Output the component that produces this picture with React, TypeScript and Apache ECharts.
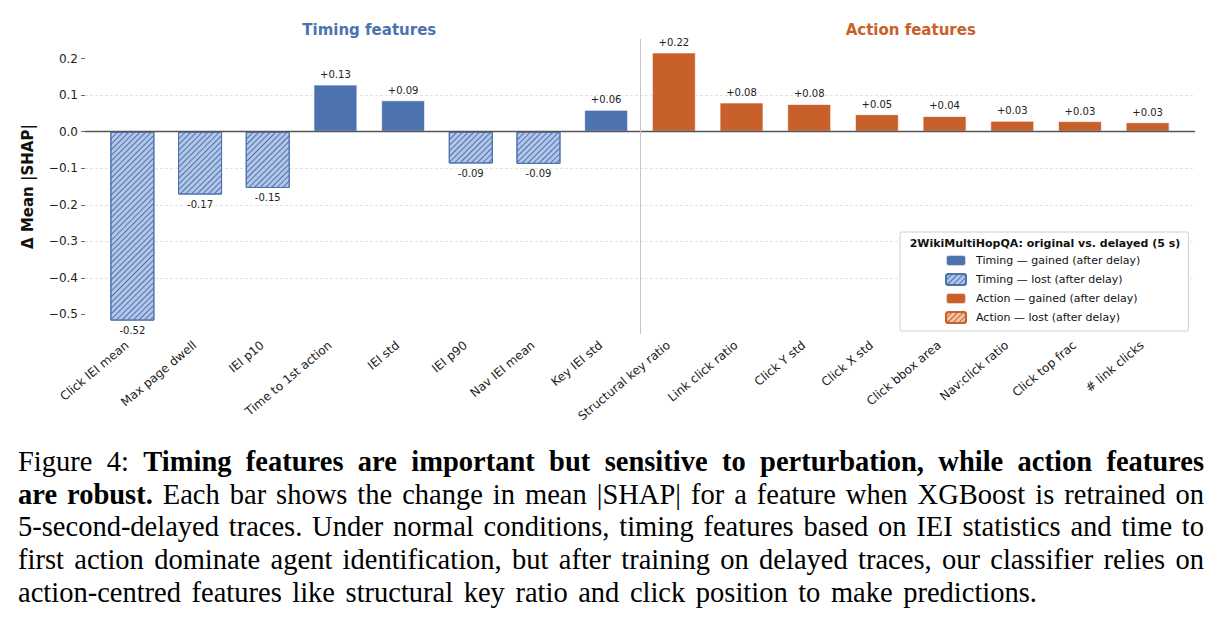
import React, { useEffect, useRef } from "react";
import * as echarts from "echarts";

// Feature names, in plotting order (timing group first, then action group)
const features = [
  "Click IEI mean",
  "Max page dwell",
  "IEI p10",
  "Time to 1st action",
  "IEI std",
  "IEI p90",
  "Nav IEI mean",
  "Key IEI std",
  "Structural key ratio",
  "Link click ratio",
  "Click Y std",
  "Click X std",
  "Click bbox area",
  "Nav:click ratio",
  "Click top frac",
  "# link clicks",
];

const featureGroup = [
  "timing", "timing", "timing", "timing", "timing", "timing", "timing", "timing",
  "action", "action", "action", "action", "action", "action", "action", "action",
];

// Change in mean |SHAP| after retraining on delayed traces
const deltaShap = [
  -0.517, -0.172, -0.154, 0.129, 0.086, -0.087, -0.088, 0.06,
  0.217, 0.08, 0.076, 0.048, 0.043, 0.03, 0.029, 0.026,
];

const yTicks = [-0.5, -0.4, -0.3, -0.2, -0.1, 0, 0.1, 0.2];
const groupTitles = ["Timing features", "Action features"];
const groupCentres = [3.5, 11.5];
const groupSplit = 7.5;
const xLimits = [-0.7, 15.7];

const legendTitle = "2WikiMultiHopQA: original vs. delayed (5 s)";
const seriesNames = [
  "Timing — gained (after delay)",
  "Timing — lost (after delay)",
  "Action — gained (after delay)",
  "Action — lost (after delay)",
];

// Caption, one entry per printed line
const captionLines: { bold?: string; text?: string }[] = [
  { text: "Figure 4: ", bold: "Timing features are important but sensitive to perturbation, while action features" },
  { bold: "are robust.", text: " Each bar shows the change in mean |SHAP| for a feature when XGBoost is retrained on" },
  { text: "5-second-delayed traces. Under normal conditions, timing features based on IEI statistics and time to" },
  { text: "first action dominate agent identification, but after training on delayed traces, our classifier relies on" },
  { text: "action-centred features like structural key ratio and click position to make predictions." },
];

const BLUE = "#4c72b0";
const ORANGE = "#c8602b";
const FONT = "DejaVu Sans";

function hatch(color: string) {
  return {
    symbol: "rect",
    symbolSize: 1,
    dashArrayX: [1, 0],
    dashArrayY: [1, 2.2],
    rotation: -Math.PI / 4,
    color,
  };
}

const seriesStyles = [
  { color: BLUE, borderColor: "rgba(255,255,255,0.7)", borderWidth: 1 },
  { color: "#b3c6e7", borderColor: BLUE, borderWidth: 1, decal: hatch(BLUE) },
  { color: ORANGE, borderColor: "rgba(255,255,255,0.7)", borderWidth: 1 },
  { color: "#f2c3a5", borderColor: ORANGE, borderWidth: 1, decal: hatch(ORANGE) },
];

function seriesIndexFor(i: number) {
  const g = featureGroup[i] === "timing" ? 0 : 2;
  return deltaShap[i] >= 0 ? g : g + 1;
}

function Caption() {
  return (
    <div
      style={{
        position: "absolute",
        left: 18,
        top: 446,
        width: 1186,
        fontFamily: '"Liberation Serif", "Times New Roman", serif',
        fontSize: 28.5,
        lineHeight: "32.7px",
        color: "#000",
      }}
    >
      {captionLines.map((ln, k) => {
        const last = k === captionLines.length - 1;
        const boldFirst = k === 1;
        return (
          <div
            key={k}
            style={{
              whiteSpace: "nowrap",
              textAlign: last ? "left" : "justify",
              textAlignLast: last ? "left" : "justify",
              wordSpacing: last ? "0.12em" : undefined,
            }}
          >
            {boldFirst ? (
              <>
                <b>{ln.bold}</b>
                {ln.text}
              </>
            ) : (
              <>
                {ln.text}
                {ln.bold ? <b>{ln.bold}</b> : null}
              </>
            )}
          </div>
        );
      })}
    </div>
  );
}

export default function App() {
  const ref = useRef<HTMLDivElement>(null);

  useEffect(() => {
    if (!ref.current) return;
    const chart = echarts.init(ref.current, null, { renderer: "svg" });

    const dMin = Math.min(...deltaShap);
    const dMax = Math.max(...deltaShap);
    const span = dMax - dMin;
    const yMin = dMin - 0.05 * span;
    const yMax = dMax + 0.05 * span;

    const series: any[] = seriesNames.map((name, s) => ({
      name,
      type: "bar",
      barWidth: 44,
      barGap: "-100%",
      itemStyle: seriesStyles[s],
      label: {
        show: true,
        fontFamily: FONT,
        fontSize: 10,
        color: "#222",
        distance: 5,
        formatter: (p: any) => {
          const v = p.value[1];
          return (v > 0 ? "+" : "") + v.toFixed(2);
        },
      },
      data: deltaShap
        .map((v, i) => ({ i, v }))
        .filter((d) => seriesIndexFor(d.i) === s)
        .map((d) => ({
          value: [d.i, d.v],
          label: { position: d.v >= 0 ? "top" : "bottom" },
        })),
    }));

    series[0].markLine = {
      silent: true,
      symbol: "none",
      label: { show: false },
      data: [
        { yAxis: 0, lineStyle: { color: "#555", width: 1.3, type: "solid" } },
        { xAxis: groupSplit, lineStyle: { color: "#c4c4c4", width: 1, type: "solid" } },
      ],
    };

    chart.setOption({
      animation: false,
      backgroundColor: "#fff",
      textStyle: { fontFamily: FONT },
      grid: { left: 85, right: 23, top: 39, bottom: 106 },
      xAxis: {
        type: "value",
        min: xLimits[0],
        max: xLimits[1],
        axisLine: { show: false, onZero: false },
        axisTick: { show: false },
        splitLine: { show: false },
        axisLabel: {
          customValues: features.map((_, i) => i),
          formatter: (v: number) => features[Math.round(v)] ?? "",
          rotate: 40,
          margin: 5,
          padding: [0, 7, 0, 0],
          fontFamily: FONT,
          fontSize: 12,
          color: "#222",
        },
      },
      yAxis: {
        type: "value",
        min: yMin,
        max: yMax,
        name: "Δ Mean |SHAP|",
        nameLocation: "middle",
        nameGap: 50,
        nameTextStyle: { fontFamily: FONT, fontSize: 15, fontWeight: "bold", color: "#111" },
        axisLine: { show: false, onZero: false },
        axisTick: {
          show: true,
          customValues: yTicks,
          length: 4,
          lineStyle: { color: "#444", width: 0.8 },
        },
        axisLabel: {
          customValues: yTicks,
          formatter: (v: number) => v.toFixed(1).replace("-", "\u2212"),
          margin: 7,
          fontFamily: FONT,
          fontSize: 12,
          color: "#222",
        },
        splitLine: {
          show: true,
          showMinLine: false,
          showMaxLine: false,
          lineStyle: { color: "#dcdcdc", width: 0.8, type: [3, 2] },
        },
      },
      legend: {
        orient: "vertical",
        left: 900,
        top: 232,
        padding: [22, 48, 7, 45],
        itemWidth: 20,
        itemHeight: 11,
        itemGap: 6,
        backgroundColor: "#fff",
        borderColor: "#cfcfcf",
        borderWidth: 1,
        borderRadius: 2,
        textStyle: { fontFamily: FONT, fontSize: 11, color: "#111", padding: [0, 0, 0, 5] },
        data: seriesNames,
      },
      series,
    });

    const titleColors = [BLUE, ORANGE];
    const graphic: any[] = groupTitles.map((t, k) => ({
      type: "text",
      x: chart.convertToPixel({ xAxisIndex: 0 }, groupCentres[k]),
      y: 30,
      z: 100,
      style: {
        text: t,
        fill: titleColors[k],
        font: `bold 15px "${FONT}"`,
        align: "center",
        verticalAlign: "middle",
      },
    }));
    graphic.push({
      type: "text",
      x: 1045,
      y: 243,
      z: 100,
      style: {
        text: legendTitle,
        fill: "#111",
        font: `bold 11px "${FONT}"`,
        align: "center",
        verticalAlign: "middle",
      },
    });
    chart.setOption({ graphic });

    return () => chart.dispose();
  }, []);

  return (
    <div style={{ position: "absolute", left: 0, top: 0, width: 1218, height: 627, background: "#fff" }}>
      <div ref={ref} style={{ width: 1218, height: 440 }} />
      <Caption />
    </div>
  );
}
